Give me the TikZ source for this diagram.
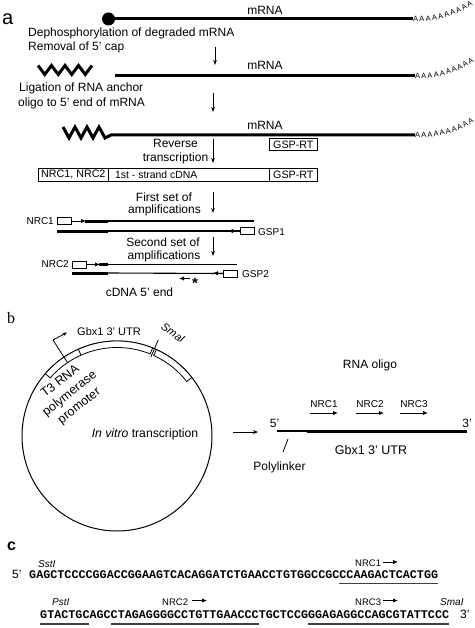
\documentclass[tikz,border=0pt]{standalone}
\usepackage{fontspec}
\setmainfont{Liberation Sans}
\newfontfamily\seqfont{Liberation Mono}
\newfontfamily\serfont{Liberation Serif}
\usetikzlibrary{arrows.meta,decorations.text}
\tikzset{
  lbl/.style={inner sep=0pt, font=\fontsize{12}{14}\selectfont},
  sml/.style={inner sep=0pt, font=\fontsize{10}{12}\selectfont},
  boxlbl/.style={draw, line width=0.7pt, inner sep=0pt, minimum height=13pt, font=\fontsize{10.7}{12}\selectfont},
  primer/.style={draw, line width=0.7pt, inner sep=0pt, minimum width=14pt, minimum height=7pt},
  thickl/.style={line width=3pt},
  thinl/.style={line width=1.1pt},
  downarrow/.style={line width=0.8pt, -{Stealth[length=5pt,width=3.6pt]}},
  tipar/.style={line width=1pt, -{Latex[length=5pt,width=4.5pt]}},
  polyA/.style={decorate, decoration={text along path, text align={fit to path}, text={|\fontsize{7.5}{8}\selectfont|AAAAAAAAAA}}},
  seq/.style={inner sep=0pt, anchor=base west, font=\seqfont\bfseries\fontsize{11.75}{13}\selectfont},
  uline/.style={line width=1.3pt, black!75},
  enz/.style={inner sep=0pt, anchor=base west, font=\fontsize{10}{12}\selectfont\itshape},
}
\begin{document}
\begin{tikzpicture}[x=1pt,y=-1pt]
\useasboundingbox (0,0) rectangle (474,628);
% ---------------- panel a ----------------
\node[inner sep=0pt, anchor=base west, font=\fontsize{20}{20}\selectfont] (la) at (2,25) {a};
% line 1
\node[circle, fill, inner sep=0pt, minimum size=13pt] (cap) at (108.5,19) {};
\coordinate (m1e) at (413,19);
\draw[thickl] (cap.center) -- (m1e);
\node[lbl, anchor=base] (t1) at (265,15) {mRNA};
\path[polyA] (413,21.5) .. controls (440,21.5) and (455,16) .. (473,5);
\node[lbl, anchor=base west] (s1a) at (28,37) {Dephosphorylation of degraded mRNA};
\node[lbl, anchor=base west] (s1b) at (28,51) {Removal of 5' cap};
\coordinate (a1s) at (215,47); \coordinate (a1e) at (215,65);
\draw[downarrow] (a1s) -- (a1e);
% line 2
\draw[thickl, line join=miter] (38,65.5) -- (44.75,74.5) -- (51.5,65.5) -- (58.25,74.5) -- (65,65.5) -- (71.75,74.5) -- (78.5,65.5) -- (85.25,74.5) -- (92,65.5);
\coordinate (m2s) at (115,76); \coordinate (m2e) at (415,76);
\draw[thickl] (m2s) -- (m2e);
\node[lbl, anchor=base] (t2) at (265,70) {mRNA};
\path[polyA] (415,78.5) .. controls (442,78.5) and (457,73) .. (474,62);
\node[lbl, anchor=base west] (s2a) at (19,92) {Ligation of RNA anchor};
\node[lbl, anchor=base west] (s2b) at (18,107) {oligo to 5' end of mRNA};
\coordinate (a2s) at (213,93); \coordinate (a2e) at (213,112);
\draw[downarrow] (a2s) -- (a2e);
% line 3
\coordinate (m3e) at (415,135);
\draw[thickl, line join=miter] (63,127) -- (69,138) -- (75,127) -- (81,138) -- (87,127) -- (93,138) -- (99,127) -- (105,138) -- (111,135) -- (m3e);
\node[lbl, anchor=base] (t3) at (265,130) {mRNA};
\path[polyA] (415,137.5) .. controls (442,137.5) and (457,133) .. (474,122);
\node[boxlbl, minimum width=48pt, minimum height=12pt, anchor=north west] (gsprt1) at (269,138) {GSP-RT};
\node[lbl, anchor=base] (rv1) at (175.5,148) {Reverse};
\node[lbl, anchor=base] (rv2) at (175.5,162) {transcription};
\coordinate (a3s) at (213,139); \coordinate (a3e) at (213,163);
\draw[downarrow] (a3s) -- (a3e);
% cDNA boxes
\node[boxlbl, minimum width=70pt, anchor=north west] (bx1) at (38,168) {NRC1, NRC2};
\node[boxlbl, minimum width=161pt, anchor=north west] (bx2) at (108,168) {};
\node[inner sep=0pt, anchor=west, font=\fontsize{10.4}{12}\selectfont] (bx2t) at ([xshift=7pt]bx2.west) {1st - strand cDNA};
\node[boxlbl, minimum width=48pt, anchor=north west] (bx3) at (269,168) {GSP-RT};
% first amplification
\node[lbl, anchor=base] (f1) at (164,201) {First set of};
\node[lbl, anchor=base] (f2) at (164.5,213.5) {amplifications};
\coordinate (a4s) at (213,192); \coordinate (a4e) at (213,213);
\draw[downarrow] (a4s) -- (a4e);
\node[sml, anchor=east] (nrc1) at (54,221) {NRC1};
\node[primer, anchor=west] (p1) at (57,221) {};
\coordinate (p1t) at (86,221);
\coordinate (s1a) at (85,221); \coordinate (s1b) at (108,221); \coordinate (s1c) at (254,221);
\draw[thickl] (s1a) -- (s1b);
\draw[thinl] (s1b) -- (s1c);
\draw[tipar] (p1.east) -- (p1t);
\coordinate (s2a) at (57,231); \coordinate (s2b) at (108,231); \coordinate (s2t) at (228,231);
\node[primer, anchor=west] (g1) at (240,231) {};
\draw[thickl] (s2a) -- (s2b);
\draw[thinl] (s2b) -- (g1.west);
\draw[tipar] (g1.west) -- (s2t);
\node[sml, anchor=west] (gsp1) at (258,232) {GSP1};
% second amplification
\node[lbl, anchor=base] (e1) at (163,246) {Second set of};
\node[lbl, anchor=base] (e2) at (164,259.5) {amplifications};
\coordinate (a5s) at (213,237); \coordinate (a5e) at (213,256);
\draw[downarrow] (a5s) -- (a5e);
\node[sml, anchor=east] (nrc2) at (69,264.5) {NRC2};
\node[primer, anchor=west] (p2) at (72,264.5) {};
\coordinate (p2t) at (100,264.5);
\coordinate (s3a) at (99,264.5); \coordinate (s3b) at (108,264.5); \coordinate (s3c) at (237,264.5);
\draw[thickl] (s3a) -- (s3b);
\draw[thinl] (s3b) -- (s3c);
\draw[tipar] (p2.east) -- (p2t);
\coordinate (s4a) at (72,273); \coordinate (s4b) at (108,273); \coordinate (s4t) at (213,273);
\node[primer, anchor=west] (g2) at (223,273.5) {};
\draw[thickl] (s4a) -- (s4b);
\draw[thinl] (s4b) -- (g2.west);
\draw[tipar] (g2.west) -- (s4t);
\node[sml, anchor=west] (gsp2) at (242,274) {GSP2};
\node[inner sep=0pt, anchor=base, font=\fontsize{15}{15}\selectfont\bfseries] (star) at (195,288) {*};
\coordinate (st1) at (190,278.5); \coordinate (st2) at (179,278.5);
\draw[tipar] (st1) -- (st2);
\node[lbl, anchor=base] (c5) at (139.5,296) {cDNA 5' end};
% ---------------- panel b ----------------
\node[inner sep=0pt, anchor=base west, font=\serfont\fontsize{16}{16}\selectfont] (lb) at (7,323) {b};
\begin{scope}[shift={(117,436)}, yscale=-1]
  \draw[line width=1pt] (0,0) circle (95);
  \draw[line width=0.8pt, fill=white] (139:95) arc[start angle=139, end angle=68, radius=95] -- (68:88.5) arc[start angle=68, end angle=139, radius=88.5] -- cycle;
  \draw[line width=0.8pt] (114:95) -- (114:88.5);
  \draw[line width=0.8pt, fill=white] (65.5:95) arc[start angle=65.5, end angle=38, radius=95] -- (38:88.5) arc[start angle=38, end angle=65.5, radius=88.5] -- cycle;
  \draw[line width=0.8pt] (66.8:86) -- (66.8:104.5);
  \coordinate (pa) at (124:88.5);
\end{scope}
\coordinate (pb) at (53,340); \coordinate (pc) at (67,332.5);
\draw[line width=0.8pt, -{Stealth[length=4.5pt,width=3.5pt]}] (pa) -- (pb) -- (pc);
\node[inner sep=0pt, anchor=base, font=\fontsize{11}{13}\selectfont] (gbxc) at (109,335) {Gbx1 3' UTR};
\node[inner sep=0pt, rotate=-35, font=\fontsize{11}{13}\selectfont\itshape] (smac) at (173,333) {SmaI};
\node[inner sep=0pt, rotate=38, align=center, font=\fontsize{12.5}{15.5}\selectfont] (t3p) at (70,394) {T3 RNA\\polymerase\\promoter};
\node[inner sep=0pt, anchor=base, font=\fontsize{12.2}{14}\selectfont] (ivt) at (145,437) {\textit{In vitro} transcription};
\coordinate (bar1) at (233,432); \coordinate (bar2) at (258,432);
\draw[line width=0.9pt, -{Stealth[length=5pt,width=4pt]}] (bar1) -- (bar2);
\node[lbl, anchor=base] (ro) at (370,368) {RNA oligo};
\node[sml, anchor=base] (n1) at (324,407) {NRC1};
\node[sml, anchor=base] (n2) at (370,407) {NRC2};
\node[sml, anchor=base] (n3) at (414,407) {NRC3};
\coordinate (n1a) at (310,413); \coordinate (n1b) at (338,413);
\coordinate (n2a) at (356,413); \coordinate (n2b) at (384,413);
\coordinate (n3a) at (400,413); \coordinate (n3b) at (428,413);
\draw[tipar] (n1a) -- (n1b);
\draw[tipar] (n2a) -- (n2b);
\draw[tipar] (n3a) -- (n3b);
\node[lbl, anchor=base] (five) at (274.5,427) {5'};
\node[lbl, anchor=base] (three) at (467,427) {3'};
\coordinate (r1) at (277,431); \coordinate (r2) at (307,431); \coordinate (r3) at (467,431);
\draw[thinl] (r1) -- (r2);
\draw[thickl] (r2) -- (r3);
\node[inner sep=0pt, anchor=base, font=\fontsize{12.5}{14}\selectfont] (gbxr) at (371,454) {Gbx1 3' UTR};
\node[lbl, anchor=base] (poly) at (279.5,470) {Polylinker};
\coordinate (pl1) at (288,439); \coordinate (pl2) at (283,452);
\draw[line width=0.8pt] (pl1) -- (pl2);
% ---------------- panel c ----------------
\node[inner sep=0pt, anchor=base west, font=\fontsize{16}{16}\selectfont\bfseries] (lc) at (7,550) {c};
\node[enz] (sst) at (38,567) {SstI};
\node[sml, anchor=base west, font=\fontsize{9.5}{11}\selectfont] (c1) at (355,566) {NRC1};
\coordinate (c1a) at (383,562); \coordinate (c1b) at (398,562);
\draw[tipar] (c1a) -- (c1b);
\node[lbl, anchor=base west] (f5) at (12,578) {5'};
\node[seq] (seq1) at (29,578) {GAGCTCCCCGGACCGGAAGTCACAGGATCTGAACCTGTGGCCGCCCAAGACTCACTGG};
\coordinate (u1a) at (339.2,583.5); \coordinate (u1b) at (437.9,583.5);
\draw[uline] (u1a) -- (u1b);
\node[enz] (pst) at (52,605) {PstI};
\node[sml, anchor=base west, font=\fontsize{9.5}{11}\selectfont] (c2) at (162,605) {NRC2};
\coordinate (c2a) at (192,600.5); \coordinate (c2b) at (207,600.5);
\draw[tipar] (c2a) -- (c2b);
\node[sml, anchor=base west, font=\fontsize{9.5}{11}\selectfont] (c3) at (355,605) {NRC3};
\coordinate (c3a) at (383,600.5); \coordinate (c3b) at (398,600.5);
\draw[tipar] (c3a) -- (c3b);
\node[enz] (sma) at (440,605) {SmaI};
\node[seq] (seq2) at (40,618) {GTACTGCAGCCTAGAGGGGCCTGTTGAACCCTGCTCCGGGAGAGGCCAGCGTATTCCC};
\node[lbl, anchor=base west] (t3e) at (460,618) {3'};
\coordinate (u2a) at (40,624); \coordinate (u2b) at (89.35,624);
\coordinate (u3a) at (110.5,624); \coordinate (u3b) at (258.55,624);
\coordinate (u4a) at (307.9,624); \coordinate (u4b) at (448.9,624);
\draw[uline] (u2a) -- (u2b);
\draw[uline] (u3a) -- (u3b);
\draw[uline] (u4a) -- (u4b);
\end{tikzpicture}
\end{document}
